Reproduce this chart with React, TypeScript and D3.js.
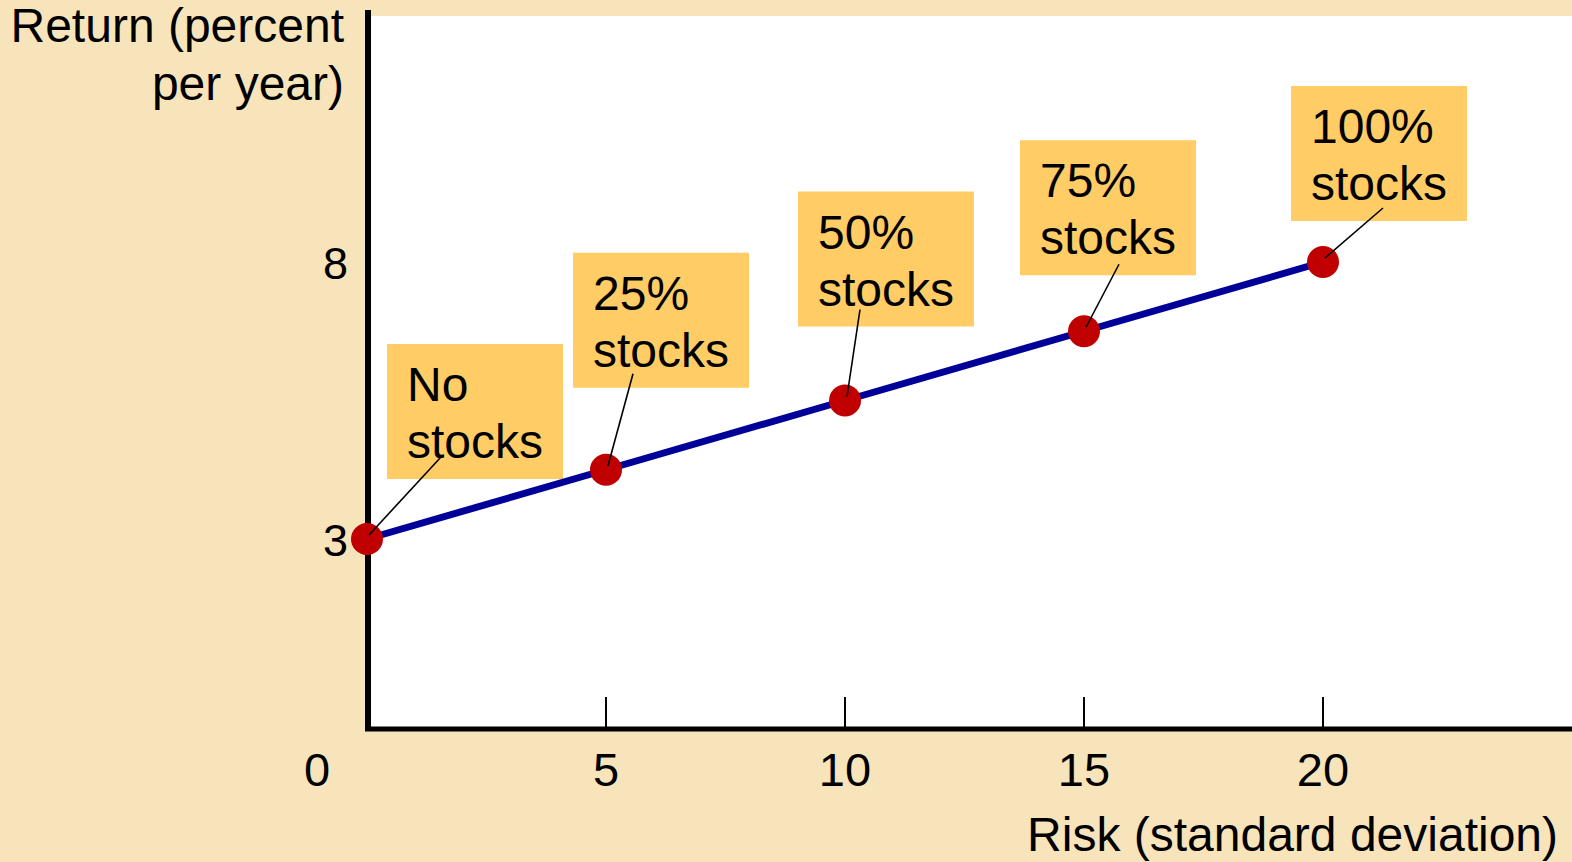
import React from "react";
import * as d3 from "d3";

// portfolio mixes: risk (std dev) vs return (% per year)
const labels = ["No stocks", "25% stocks", "50% stocks", "75% stocks", "100% stocks"];
const risk = [0, 5, 10, 15, 20];
const returns = [3, 4.25, 5.5, 6.75, 8];
const xTicks = [5, 10, 15, 20];
const yTicks = [3, 8];

// label box placement relative to its point (px)
const boxOffsets = [
  [20, -195],
  [-33, -217],
  [-47, -209],
  [-64, -191],
  [-32, -176],
];
const leaderEnds = [
  [74, -82],
  [27, -96],
  [15, -91],
  [35, -67],
  [60, -54],
];

const W = 1572;
const H = 862;
const FONT = "'Liberation Sans', Arial, sans-serif";

export default function App() {
  const x = d3.scaleLinear().domain([0, 20]).range([367, 1323]);
  const y = d3.scaleLinear().domain([3, 8]).range([539, 262]);

  const pts = risk.map((r, i) => ({ x: x(r), y: y(returns[i]), label: labels[i] }));
  const line = d3
    .line<{ x: number; y: number }>()
    .x((d) => d.x)
    .y((d) => d.y);

  return (
    <svg
      width={W}
      height={H}
      style={{ position: "absolute", left: 0, top: 0, display: "block" }}
      fontFamily={FONT}
    >
      <rect x={0} y={0} width={W} height={H} fill="#F7E4BB" />
      <rect x={370} y={16} width={W - 370} height={712} fill="#ffffff" />

      {/* axes */}
      <line x1={368} y1={10} x2={368} y2={731} stroke="#000" strokeWidth={6} />
      <line x1={365} y1={729} x2={W} y2={729} stroke="#000" strokeWidth={5} />

      {xTicks.map((t) => (
        <g key={t}>
          <line x1={x(t)} x2={x(t)} y1={697} y2={727} stroke="#000" strokeWidth={2} />
          <text x={x(t)} y={786} fontSize={47} textAnchor="middle">
            {t}
          </text>
        </g>
      ))}
      <text x={317} y={786} fontSize={47} textAnchor="middle">
        0
      </text>
      {yTicks.map((t) => (
        <text key={t} x={348} y={y(t) + 17} fontSize={45} textAnchor="end">
          {t}
        </text>
      ))}

      <text x={344} y={42} fontSize={48} textAnchor="end">
        Return (percent
      </text>
      <text x={344} y={100} fontSize={48} textAnchor="end">
        per year)
      </text>
      <text x={1558} y={851} fontSize={48} textAnchor="end">
        Risk (standard deviation)
      </text>

      {/* label boxes */}
      {pts.map((p, i) => {
        const bx = p.x + boxOffsets[i][0];
        const by = p.y + boxOffsets[i][1];
        const [l1, l2] = p.label.split(" ");
        return (
          <g key={p.label}>
            <rect x={bx} y={by} width={176} height={135} fill="#FFCC66" />
            <text x={bx + 20} y={by + 57} fontSize={48}>
              {l1}
            </text>
            <text x={bx + 20} y={by + 114} fontSize={48}>
              {l2}
            </text>
          </g>
        );
      })}

      <path d={line(pts) || ""} fill="none" stroke="#000099" strokeWidth={7} />

      {pts.map((p) => (
        <circle key={p.label} cx={p.x} cy={p.y} r={16} fill="#C00000" />
      ))}

      {pts.map((p, i) => (
        <line
          key={p.label}
          x1={p.x + 2}
          y1={p.y - 4}
          x2={p.x + leaderEnds[i][0]}
          y2={p.y + leaderEnds[i][1]}
          stroke="#000"
          strokeWidth={1.6}
        />
      ))}
    </svg>
  );
}
